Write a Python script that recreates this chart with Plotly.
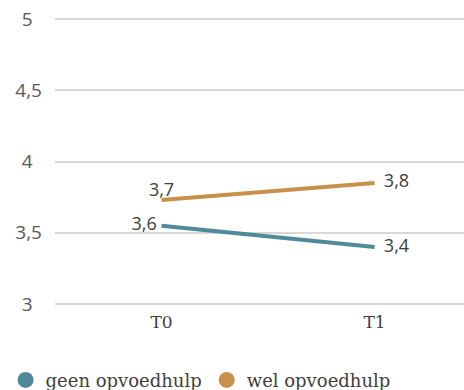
import plotly.graph_objects as go

categories = ["T0", "T1"]
geen_values = [3.55, 3.40]
wel_values = [3.73, 3.85]
geen_labels = ["3,6 ", "  3,4"]
wel_labels = ["3,7", "  3,8"]
y_ticks = [3, 3.5, 4, 4.5, 5]
y_tick_labels = ["3\u2002", "3,5", "4\u2002", "4,5", "5\u2002"]

teal = "#4e8a99"
orange = "#c8914a"

fig = go.Figure()
fig.add_trace(go.Scatter(
    x=categories, y=wel_values, mode="lines+text", text=wel_labels,
    textposition=["top center", "middle right"],
    line=dict(color=orange, width=4), showlegend=False,
    textfont=dict(family="Open Sans", size=18, color="#404040"),
))
fig.add_trace(go.Scatter(
    x=categories, y=geen_values, mode="lines+text", text=geen_labels,
    textposition=["middle left", "middle right"],
    line=dict(color=teal, width=4), showlegend=False,
    textfont=dict(family="Open Sans", size=18, color="#404040"),
))
fig.add_trace(go.Scatter(x=[None], y=[None], mode="markers", name="geen opvoedhulp",
                         marker=dict(color=teal, size=20)))
fig.add_trace(go.Scatter(x=[None], y=[None], mode="markers", name="wel opvoedhulp",
                         marker=dict(color=orange, size=20)))

fig.update_layout(
    width=464, height=390,
    margin=dict(l=55, r=0, t=16, b=83, autoexpand=False),
    plot_bgcolor="white", paper_bgcolor="white",
    showlegend=True,
    legend=dict(orientation="h", xref="container", yref="container",
                x=0.012, y=0.025, xanchor="left", yanchor="middle",
                font=dict(family="DejaVu Serif", size=18, color="#404040"),
                itemwidth=30, tracegroupgap=0),
)
fig.update_xaxes(type="category", range=[-0.5, 1.42], showgrid=False, showline=False,
                 ticks="", automargin=False, ticklabelstandoff=3,
                 tickfont=dict(family="DejaVu Serif", size=17, color="#404040"))
fig.update_yaxes(range=[2.98, 5.02], tickvals=y_ticks, ticktext=y_tick_labels,
                 showgrid=True, gridcolor="#d9d9d9", gridwidth=1.5, zeroline=False,
                 showline=False, ticks="", ticklabelstandoff=12, automargin=False,
                 tickfont=dict(family="Open Sans", size=19, color="#595959"))

fig.write_html("out.html", config={"displayModeBar": False},
               post_script="document.body.style.margin='0px';")
